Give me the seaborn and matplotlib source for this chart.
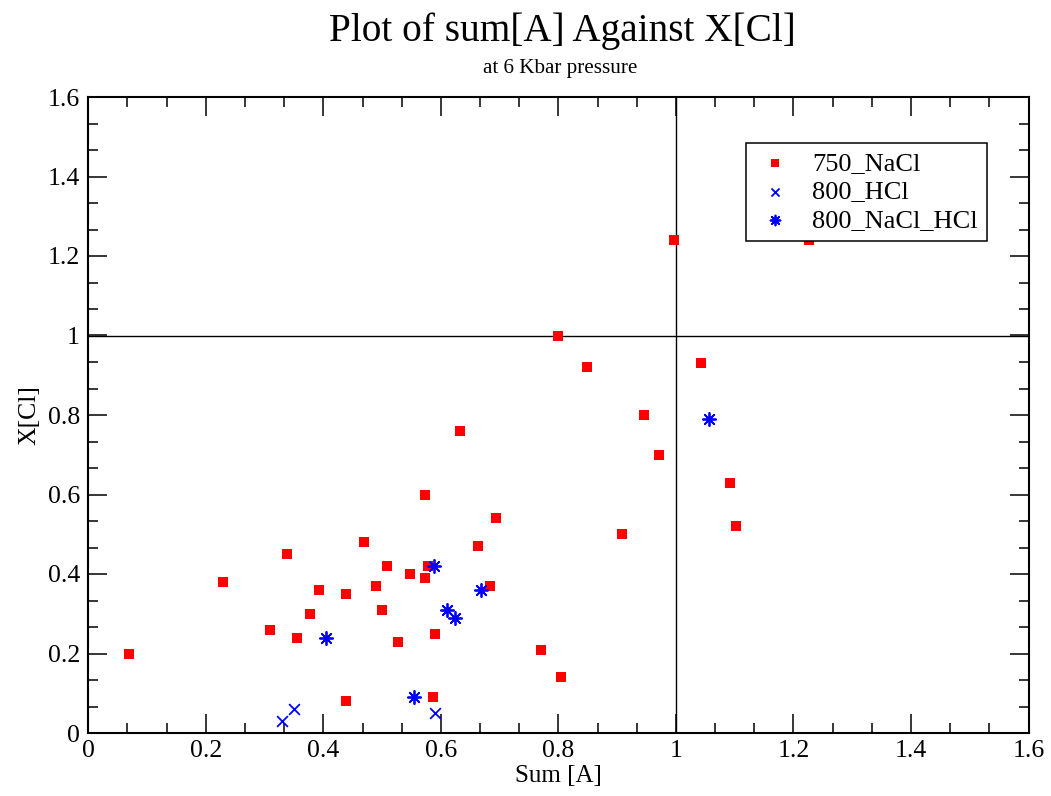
import matplotlib
matplotlib.use("Agg")
import matplotlib.pyplot as plt
import seaborn as sns
import pandas as pd
from matplotlib.ticker import MultipleLocator, AutoMinorLocator, FuncFormatter

# ---- data ----
nacl_x = [0.07, 0.23, 0.309, 0.338, 0.356, 0.377, 0.392, 0.438, 0.439, 0.47,
          0.489, 0.50, 0.508, 0.527, 0.547, 0.573, 0.573, 0.578, 0.587, 0.59,
          0.632, 0.664, 0.683, 0.694, 0.771, 0.80, 0.804, 0.849, 0.909, 0.945,
          0.971, 0.997, 1.043, 1.092, 1.102, 1.227]
nacl_y = [0.20, 0.38, 0.26, 0.45, 0.24, 0.30, 0.36, 0.35, 0.08, 0.48,
          0.37, 0.31, 0.42, 0.23, 0.40, 0.39, 0.60, 0.42, 0.09, 0.25,
          0.76, 0.47, 0.37, 0.54, 0.21, 1.00, 0.14, 0.92, 0.50, 0.80,
          0.70, 1.24, 0.93, 0.63, 0.52, 1.24]
hcl_x = [0.329, 0.350, 0.590]
hcl_y = [0.03, 0.06, 0.05]
mix_x = [0.405, 0.554, 0.589, 0.610, 0.624, 0.668, 1.057]
mix_y = [0.24, 0.09, 0.42, 0.31, 0.29, 0.36, 0.79]

series_names = ["750_NaCl", "800_HCl", "800_NaCl_HCl"]
title = "Plot of sum[A] Against X[Cl]"
subtitle = "at 6 Kbar pressure"
x_label = "Sum [A]"
y_label = "X[Cl]"

df_nacl = pd.DataFrame({"x": nacl_x, "y": nacl_y})
df_hcl = pd.DataFrame({"x": hcl_x, "y": hcl_y})
df_mix = pd.DataFrame({"x": mix_x, "y": mix_y})

sns.set_style("ticks")
plt.rcParams["font.family"] = ["Liberation Serif", "DejaVu Serif"]
for k in ["text.color", "axes.labelcolor", "xtick.color", "ytick.color", "axes.edgecolor"]:
    plt.rcParams[k] = "black"

fig = plt.figure(figsize=(10.51, 7.96), dpi=100)
ax = fig.add_axes([88.3 / 1051, 1 - 733 / 796, 940.2 / 1051, 636 / 796])

sns.scatterplot(data=df_nacl, x="x", y="y", ax=ax, marker="s", color="#ff0000",
                s=52, linewidth=0, label=series_names[0], zorder=3)
sns.scatterplot(data=df_hcl, x="x", y="y", ax=ax, marker="x", color="#0000ff",
                s=60, linewidth=1.3, label=series_names[1], zorder=3)
sns.scatterplot(data=df_mix, x="x", y="y", ax=ax, marker=(8, 2, 0), color="#0000ff",
                s=90, linewidth=1.3, label=series_names[2], zorder=3)

ax.axvline(1.0, color="black", lw=1.0, zorder=2)
ax.axhline(1.0, color="black", lw=1.0, zorder=2)

ax.set_xlim(0, 1.6)
ax.set_ylim(0, 1.6)
ax.xaxis.set_major_locator(MultipleLocator(0.2))
ax.yaxis.set_major_locator(MultipleLocator(0.2))
ax.xaxis.set_minor_locator(AutoMinorLocator(3))
ax.yaxis.set_minor_locator(AutoMinorLocator(3))
fmt = FuncFormatter(lambda v, p: "%g" % round(v, 3))
ax.xaxis.set_major_formatter(fmt)
ax.yaxis.set_major_formatter(fmt)

for side in ["left", "right", "top", "bottom"]:
    ax.spines[side].set_visible(True)
    ax.spines[side].set_linewidth(1.5)
    ax.spines[side].set_color("black")

ax.tick_params(which="both", direction="in", top=True, right=True,
               color="black", width=1.1)
ax.tick_params(which="major", length=13.5, labelsize=18.5)
ax.tick_params(which="minor", length=7.5)
ax.tick_params(axis="x", which="major", pad=5)
ax.tick_params(axis="y", which="major", pad=6)

ax.set_xlabel(x_label, fontsize=18, labelpad=2)
ax.set_ylabel(y_label, fontsize=18.5, labelpad=5)

fig.text(562.5 / 1051, 1 - 41 / 796, title, ha="center", va="baseline", fontsize=28.3)
fig.text(560 / 1051, 1 - 72.5 / 796, subtitle, ha="center", va="baseline", fontsize=15.2)

leg = ax.legend(loc="upper left", bbox_to_anchor=(0.6997, 0.928), borderaxespad=0,
                fontsize=19, frameon=True, fancybox=False, framealpha=1,
                edgecolor="black", handlelength=1.5, handletextpad=0.68,
                labelspacing=0.19, borderpad=0.33, markerscale=0.75)
leg.get_frame().set_linewidth(1.1)

fig.savefig("out.png", dpi=100)
